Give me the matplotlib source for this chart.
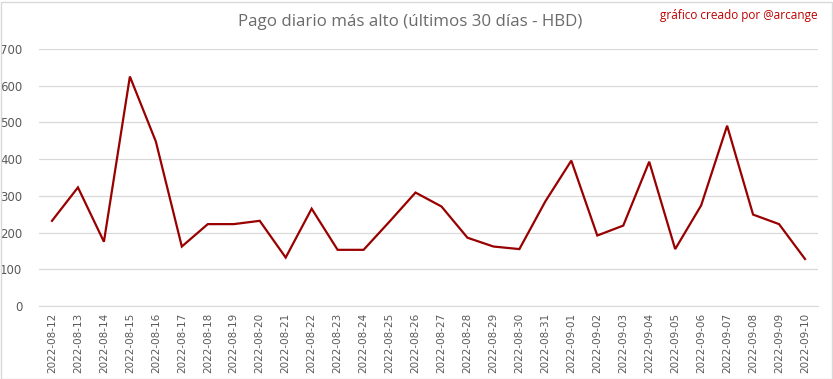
import matplotlib
matplotlib.use("Agg")
import matplotlib.pyplot as plt
from matplotlib.patches import Rectangle

dates = [
    "2022-08-12", "2022-08-13", "2022-08-14", "2022-08-15", "2022-08-16",
    "2022-08-17", "2022-08-18", "2022-08-19", "2022-08-20", "2022-08-21",
    "2022-08-22", "2022-08-23", "2022-08-24", "2022-08-25", "2022-08-26",
    "2022-08-27", "2022-08-28", "2022-08-29", "2022-08-30", "2022-08-31",
    "2022-09-01", "2022-09-02", "2022-09-03", "2022-09-04", "2022-09-05",
    "2022-09-06", "2022-09-07", "2022-09-08", "2022-09-09", "2022-09-10",
]
max_payout = [
    232, 323, 175, 625, 448, 162, 223, 223, 232, 132,
    265, 153, 153, 230, 309, 271, 186, 162, 155, 285,
    396, 192, 219, 393, 155, 274, 491, 249, 223, 128,
]
y_ticks = [0, 100, 200, 300, 400, 500, 600, 700]

W, H = 833, 379
fig = plt.figure(figsize=(W / 100, H / 100), dpi=100)
fig.patch.set_facecolor("white")

# plot area in pixel coords
left, right, top, bottom = 39, 818, 49, 306
ax = fig.add_axes([left / W, 1 - bottom / H, (right - left) / W, (bottom - top) / H])

x = list(range(len(dates)))
ax.plot(x, max_payout, color="#990000", linewidth=1.6, solid_joinstyle="miter")

ax.set_xlim(-0.5, len(dates) - 0.5)
ax.set_ylim(0, 700)
ax.set_yticks(y_ticks)
ax.set_yticklabels([str(v) for v in y_ticks])
ax.set_xticks(x)
ax.set_xticklabels(dates, rotation=90)

ax.grid(axis="y", color="#d9d9d9", linewidth=0.9)
ax.set_axisbelow(True)
for s in ["top", "right", "left"]:
    ax.spines[s].set_visible(False)
ax.spines["bottom"].set_color("#d9d9d9")
ax.tick_params(axis="both", length=0, colors="#595959")
ax.tick_params(axis="x", pad=5, labelsize=7.5)
ax.tick_params(axis="y", pad=12, labelsize=8.5)

fig.text(410 / W, 1 - 22 / H, "Pago diario más alto (últimos 30 días - HBD)",
         ha="center", va="center", fontsize=12.2, color="#6b6b6b", family="Open Sans")
fig.text(818 / W, 1 - 16 / H, "gráfico creado por @arcange",
         ha="right", va="center", fontsize=8.5, color="#c00000", family="Open Sans")

# thin outer border like the exported chart
fig.patches.append(Rectangle((0.5 / W, 0.5 / H), (W - 2) / W, (H - 2) / H,
                             transform=fig.transFigure, fill=False,
                             edgecolor="#d9d9d9", linewidth=1))

fig.savefig("out.png", dpi=100)
